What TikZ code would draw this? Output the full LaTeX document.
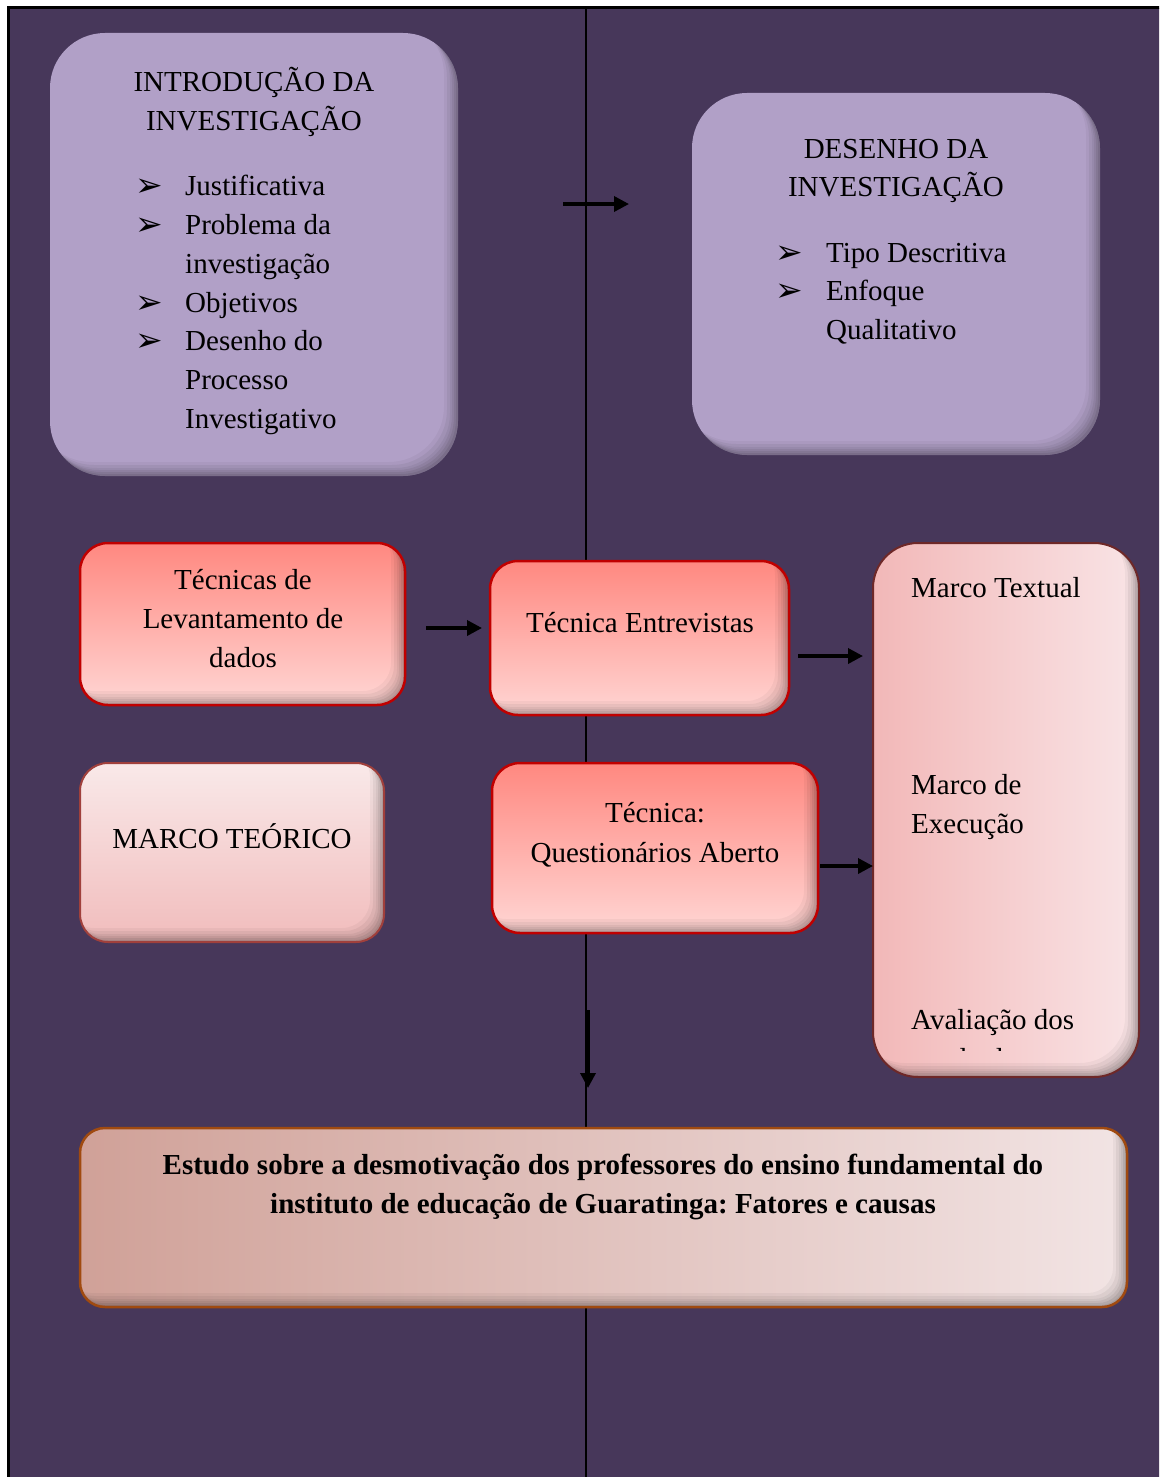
\documentclass[tikz,border=0pt]{standalone}
\usepackage{fontspec}
\setmainfont{Liberation Serif}
\newfontfamily\dvfont{DejaVu Sans}
\frenchspacing
\usetikzlibrary{arrows.meta}
\definecolor{bg}{RGB}{71,55,90}
\definecolor{purp}{RGB}{177,160,199}
\definecolor{redb}{RGB}{192,0,0}
\definecolor{redtop}{RGB}{255,136,128}
\definecolor{redbot}{RGB}{255,214,212}
\definecolor{mttop}{RGB}{249,233,233}
\definecolor{mtbot}{RGB}{241,188,188}
\definecolor{mtb}{RGB}{160,64,60}
\definecolor{colL}{RGB}{242,184,184}
\definecolor{colR}{RGB}{249,228,230}
\definecolor{colb}{RGB}{110,40,40}
\definecolor{titL}{RGB}{208,161,152}
\definecolor{titR}{RGB}{242,228,228}
\definecolor{titb}{RGB}{160,74,16}
\tikzset{
  x=1pt,y=1pt,
  innershade/.style={path picture={
    \foreach \dd/\oo in {2/0.07,4/0.07,6/0.06,8/0.05,11/0.05,14/0.04}{
      \fill[black,opacity=\oo,even odd rule]
        ([shift={(-40,-40)}]path picture bounding box.south west) rectangle ([shift={(40,40)}]path picture bounding box.north east)
        [rounded corners=#1] ([shift={(-\dd,\dd)}]path picture bounding box.south west) rectangle ([shift={(-\dd,\dd)}]path picture bounding box.north east);
    }}},
  boxbase/.style={rectangle, inner sep=0pt, outer sep=0pt},
  purplebox/.style={boxbase, fill=purp, rounded corners=55, innershade=55},
  redbox/.style={boxbase, draw=redb, line width=2.5pt, top color=redtop, bottom color=redbot, rounded corners=28, innershade=28},
  mtbox/.style={boxbase, draw=mtb, line width=2pt, top color=mttop, bottom color=mtbot, rounded corners=28, innershade=28},
  colbox/.style={boxbase, draw=colb, line width=2pt, left color=colL, right color=colR, rounded corners=45, innershade=45},
  titbox/.style={boxbase, draw=titb, line width=2.5pt, left color=titL, right color=titR, rounded corners=25, innershade=25},
  txt/.style={inner sep=0pt, font=\fontsize{29}{39}\selectfont, anchor=base},
  txtl/.style={txt, anchor=base west},
  btxt/.style={txt, font=\fontsize{29}{39}\selectfont\bfseries},
  bul/.style={inner sep=0pt, font=\dvfont\fontsize{33}{33}\selectfont, anchor=center},
  arr/.style={line width=3.5pt, -{Triangle[length=15pt,width=15pt]}},
}
\begin{document}
\begin{tikzpicture}
\useasboundingbox (0,0) rectangle (1159,-1477);
\clip (0,0) rectangle (1159,-1477);
% background and frame
\fill[white] (0,0) rectangle (1159,-1477);
\fill[bg] (8,-8) rectangle (1200,-1520);
\draw[line width=3pt] (8,-1520) -- (8,-8) -- (1200,-8);
% central vertical line
\coordinate (vtop) at (586,-8);
\coordinate (vbot) at (586,-1480);
\draw[line width=1.5pt] (vtop) -- (vbot);

% boxes
\node[purplebox, minimum width=408, minimum height=443] (intro) at (254,-254.5) {};
\node[purplebox, minimum width=408, minimum height=362] (des) at (896,-274) {};
\node[redbox, minimum width=325, minimum height=162] (lev) at (242.5,-624) {};
\node[redbox, minimum width=299, minimum height=154] (ent) at (639.5,-638) {};
\node[mtbox, minimum width=304, minimum height=179] (mt) at (232,-852.5) {};
\node[redbox, minimum width=326, minimum height=170] (qa) at (655,-848) {};
\node[colbox, minimum width=266, minimum height=534] (col) at (1006,-810) {};
\node[titbox, minimum width=1047, minimum height=179] (tit) at (603.5,-1217.5) {};

% arrows
\coordinate (a1s) at (563,-204);  \coordinate (a1e) at (629,-204);
\coordinate (a2s) at (426,-628);  \coordinate (a2e) at (482,-628);
\coordinate (a3s) at (798,-656);  \coordinate (a3e) at (863,-656);
\coordinate (a4s) at (820,-866);  \coordinate (a4e) at (873,-866);
\coordinate (a5s) at (588,-1010); \coordinate (a5e) at (588,-1088);
\draw[arr] (a1s) -- (a1e);
\draw[arr] (a2s) -- (a2e);
\draw[arr] (a3s) -- (a3e);
\draw[arr] (a4s) -- (a4e);
\draw[arr] (a5s) -- (a5e);

% intro text
\node[txt] (i1) at (254,-92) {INTRODUÇÃO DA};
\node[txt] (i2) at (254,-131) {INVESTIGAÇÃO};
\node[bul] (ib1) at (149,-188) {➢};
\node[txtl] (i3) at (185,-195) {Justificativa};
\node[bul] (ib2) at (149,-227) {➢};
\node[txtl] (i4) at (185,-234) {Problema da};
\node[txtl] (i5) at (185,-273) {investigação};
\node[bul] (ib3) at (149,-305) {➢};
\node[txtl] (i6) at (185,-312) {Objetivos};
\node[bul] (ib4) at (149,-343) {➢};
\node[txtl] (i7) at (185,-350) {Desenho do};
\node[txtl] (i8) at (185,-389) {Processo};
\node[txtl] (i9) at (185,-428) {Investigativo};

% desenho text
\node[txt] (d1) at (896,-158) {DESENHO DA};
\node[txt] (d2) at (896,-196) {INVESTIGAÇÃO};
\node[bul] (db1) at (789,-255) {➢};
\node[txtl] (d3) at (826,-262) {Tipo Descritiva};
\node[bul] (db2) at (789,-293) {➢};
\node[txtl] (d4) at (826,-300) {Enfoque};
\node[txtl] (d5) at (826,-339) {Qualitativo};

% red boxes text
\node[txt] (l1) at (243,-589) {Técnicas de};
\node[txt] (l2) at (243,-628) {Levantamento de};
\node[txt] (l3) at (243,-667) {dados};
\node[txt] (e1) at (640,-632) {Técnica Entrevistas};
\node[txt] (m1) at (232,-848) {MARCO TEÓRICO};
\node[txt] (q1) at (655,-822) {Técnica:};
\node[txt] (q2) at (655,-862) {Questionários Aberto};

% column text
\node[txtl] (c1) at (911,-597) {Marco Textual};
\node[txtl] (c2) at (911,-794) {Marco de};
\node[txtl] (c3) at (911,-833) {Execução};
\node[txtl] (c4) at (911,-1029) {Avaliação dos};
\begin{scope}
\clip (880,-1036) rectangle (1135,-1050);
\node[txtl] (c5) at (911,-1068) {resultados};
\end{scope}

% title text
\node[btxt] (t1) at (603,-1174) {Estudo sobre a desmotivação dos professores do ensino fundamental do};
\node[btxt] (t2) at (603,-1213) {instituto de educação de Guaratinga: Fatores e causas};
\end{tikzpicture}
\end{document}
